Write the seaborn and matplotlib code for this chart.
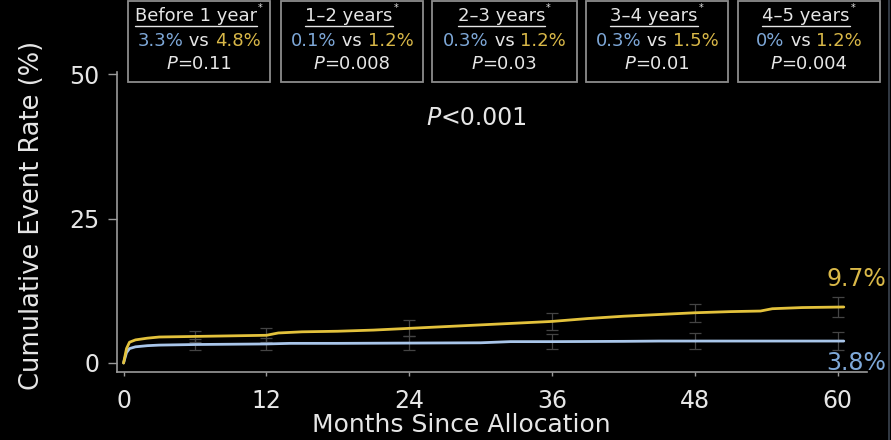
import matplotlib
matplotlib.use("Agg")
import numpy as np
import pandas as pd
import matplotlib.pyplot as plt
import seaborn as sns
from matplotlib.patches import Rectangle
from matplotlib.lines import Line2D

# ---- cumulative event curves (%) ----
months_blue = [0, 0.25, 0.5, 1, 2, 3, 6, 9, 12, 14, 18, 24, 30, 32.5, 36, 42, 45, 48, 54, 60.5]
rate_blue = [0, 1.8, 2.5, 2.8, 3.0, 3.1, 3.2, 3.25, 3.3, 3.4, 3.4, 3.45, 3.5, 3.7, 3.7, 3.75, 3.8, 3.8, 3.8, 3.8]

months_gold = [0, 0.25, 0.5, 1, 2, 3, 6, 9, 12, 13, 15, 18, 21, 24, 27, 30, 33, 36, 39, 42,
               45, 48, 51, 53.5, 54.5, 57, 60.5]
rate_gold = [0, 2.5, 3.6, 4.0, 4.3, 4.5, 4.6, 4.7, 4.8, 5.2, 5.4, 5.5, 5.7, 6.0, 6.3, 6.6, 6.9,
             7.2, 7.7, 8.1, 8.4, 8.7, 8.9, 9.0, 9.4, 9.6, 9.7]

# confidence-interval half widths at selected months
ci_months = [6, 12, 24, 36, 48, 60]
ci_blue = [0.9, 1.0, 1.2, 1.3, 1.4, 1.5]
ci_gold = [1.0, 1.2, 1.4, 1.5, 1.6, 1.8]

final_blue = 3.8
final_gold = 9.7
overall_p = "<0.001"

# ---- landmark boxes ----
period_names = ["Before 1 year", "1\u20132 years", "2\u20133 years", "3\u20134 years", "4\u20135 years"]
period_blue = ["3.3%", "0.1%", "0.3%", "0.3%", "0%"]
period_gold = ["4.8%", "1.2%", "1.2%", "1.5%", "1.2%"]
period_p = ["=0.11", "=0.008", "=0.03", "=0.01", "=0.004"]

x_ticks = [0, 12, 24, 36, 48, 60]
y_ticks = [0, 25, 50]

BLUE_LINE = "#a9c6ea"
GOLD_LINE = "#e3c23c"
BLUE_TXT = "#7ea8d8"
GOLD_TXT = "#d9b848"
FG = "#e6e6e6"
SPINE = "#9a9a9a"

sns.set_theme(style="dark", rc={
    "figure.facecolor": "black",
    "axes.facecolor": "black",
    "savefig.facecolor": "black",
    "axes.edgecolor": SPINE,
    "text.color": FG,
    "xtick.color": SPINE,
    "ytick.color": SPINE,
    "xtick.labelcolor": FG,
    "ytick.labelcolor": FG,
    "axes.labelcolor": FG,
})
plt.rcParams["font.family"] = ["DejaVu Sans"]

W, H = 891, 440
fig = plt.figure(figsize=(W / 100, H / 100), dpi=100)
ax = fig.add_axes([117 / W, (H - 372) / H, (867 - 117) / W, (372 - 72) / H])

df = pd.concat([
    pd.DataFrame({"month": months_blue, "rate": rate_blue, "arm": "blue"}),
    pd.DataFrame({"month": months_gold, "rate": rate_gold, "arm": "gold"}),
], ignore_index=True)

# faint interval bars behind the curves
for months, rates, ci in [(months_blue, rate_blue, ci_blue), (months_gold, rate_gold, ci_gold)]:
    centers = np.interp(ci_months, months, rates)
    ax.errorbar(ci_months, centers, yerr=ci, fmt="none", ecolor="#444444",
                elinewidth=0.9, capsize=4, capthick=0.9, zorder=1)

sns.lineplot(data=df, x="month", y="rate", hue="arm",
             palette={"blue": BLUE_LINE, "gold": GOLD_LINE},
             linewidth=2.0, legend=False, ax=ax, zorder=3, sort=False)

ax.set_xlim(-0.55, 62.45)
ax.set_ylim(-1.56, 50.4)
ax.set_xticks(x_ticks)
ax.set_yticks(y_ticks)
ax.tick_params(axis="y", length=6.5, width=1.0, pad=6, labelsize=17, direction="out", left=True)
ax.tick_params(axis="x", length=3, width=1.0, pad=9, labelsize=17, direction="out", bottom=True)
ax.grid(False)
for side in ["top", "right"]:
    ax.spines[side].set_visible(False)
for side in ["left", "bottom"]:
    ax.spines[side].set_color(SPINE)
    ax.spines[side].set_linewidth(1.2)

ax.set_xlabel("Months Since Allocation", fontsize=18, color=FG)
ax.set_ylabel("Cumulative Event Rate (%)", fontsize=18.5, color=FG)
ax.xaxis.set_label_coords((461 - 117) / (867 - 117), -(425 - 372) / 300, transform=ax.transAxes)
ax.yaxis.set_label_coords(-(117 - 32) / (867 - 117), (372 - 215) / 300, transform=ax.transAxes)
ax.xaxis.label.set_va("center")
ax.yaxis.label.set_va("center")

# end-of-follow-up labels
ax.annotate(f"{final_gold}%", xy=(60, final_gold), xytext=(13, 20), textcoords="offset points",
            ha="center", va="center", color=GOLD_TXT, fontsize=17)
ax.annotate(f"{final_blue}%", xy=(60, final_blue), xytext=(13, -16), textcoords="offset points",
            ha="center", va="center", color=BLUE_TXT, fontsize=17)

renderer = fig.canvas.get_renderer()


def fx(px):
    return px / W


def fy(py):
    return 1 - py / H


def rich_line(parts, cx, cy, size):
    texts = []
    for s, color, style in parts:
        t = fig.text(0, fy(cy), s, color=color, fontsize=size, fontstyle=style,
                     ha="left", va="center")
        texts.append(t)
    widths = [t.get_window_extent(renderer).width for t in texts]
    x = cx - sum(widths) / 2
    for t, w in zip(texts, widths):
        t.set_x(fx(x))
        x += w
    return texts


# overall P value
rich_line([("P", FG, "italic"), (overall_p, FG, "normal")], 477, 118, 17)

BOX_FS = 13
box_left = [128, 281, 432, 586, 738]
box_right = [270, 423, 577, 728, 880]
for i, name in enumerate(period_names):
    l, r = box_left[i], box_right[i]
    fig.patches.append(Rectangle((fx(l), fy(82)), fx(r - l), (82 - 1) / H,
                                 transform=fig.transFigure, facecolor="black",
                                 edgecolor="#8c8c8c", linewidth=1.3))
    cx = (l + r) / 2
    head = fig.text(0, fy(16), name, color=FG, fontsize=BOX_FS, ha="left", va="center")
    hw = head.get_window_extent(renderer).width
    x0 = cx - hw / 2 - 3
    head.set_x(fx(x0))
    fig.text(fx(x0 + hw + 1), fy(8), "*", color=FG, fontsize=7, ha="left", va="center")
    fig.add_artist(Line2D([fx(x0), fx(x0 + hw)], [fy(26), fy(26)], color=FG, linewidth=1.0))
    rich_line([(period_blue[i], BLUE_TXT, "normal"), (" vs ", FG, "normal"),
               (period_gold[i], GOLD_TXT, "normal")], cx, 41, BOX_FS)
    rich_line([("P", FG, "italic"), (period_p[i], FG, "normal")], cx, 64, BOX_FS)

# thin frame edge on the right
fig.add_artist(Line2D([fx(889), fx(889)], [0, 1], color="#3c4450", linewidth=1.2))

fig.savefig("out.png", dpi=100, facecolor="black")
